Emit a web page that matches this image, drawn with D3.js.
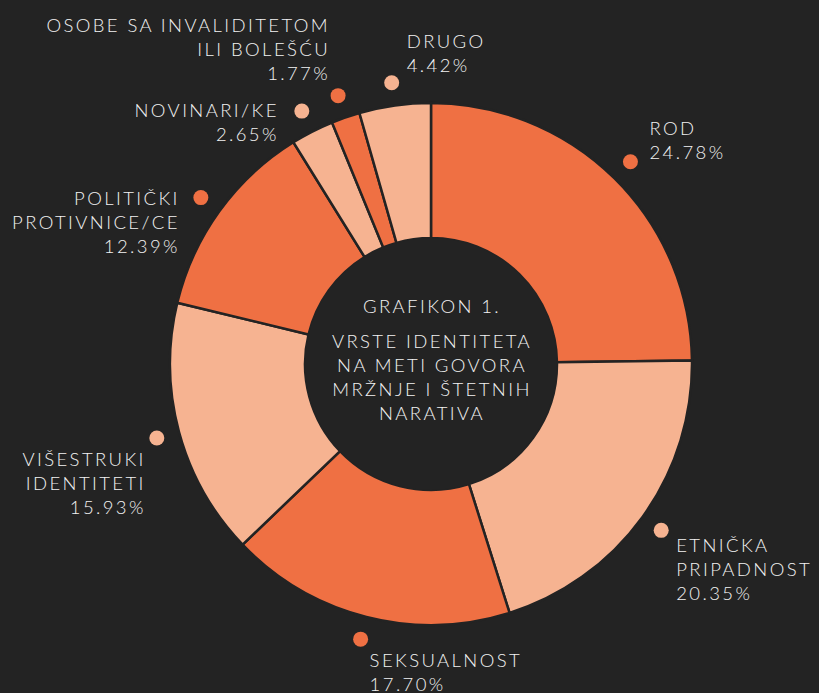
<!DOCTYPE html>
<html>
<head>
<meta charset="utf-8">
<script src="https://cdn.jsdelivr.net/npm/d3@7"></script>
<style>
  html, body { margin: 0; padding: 0; background: #232323; }
  svg { display: block; }
  text { font-family: Lato, "Open Sans", sans-serif; font-weight: 300; fill: #f2f2f2; font-size: 18.5px; letter-spacing: 2.4px; }
</style>
</head>
<body>
<div class="container"></div>
<script>
var width = 819,
    height = 693,
    cx = 431,
    cy = 364,
    outerR = 261,
    innerR = 126,
    dotR = 284;

// data, clockwise from 12 o'clock
var categories = ['ROD', 'ETNIČKA PRIPADNOST', 'SEKSUALNOST', 'VIŠESTRUKI IDENTITETI',
    'POLITIČKI PROTIVNICE/CE', 'NOVINARI/KE', 'OSOBE SA INVALIDITETOM ILI BOLEŠĆU', 'DRUGO'];
var shares = [24.78, 20.35, 17.70, 15.93, 12.39, 2.65, 1.77, 4.42];
var labelLines = [
    ['ROD'],
    ['ETNIČKA', 'PRIPADNOST'],
    ['SEKSUALNOST'],
    ['VIŠESTRUKI', 'IDENTITETI'],
    ['POLITIČKI', 'PROTIVNICE/CE'],
    ['NOVINARI/KE'],
    ['OSOBE SA INVALIDITETOM', 'ILI BOLEŠĆU'],
    ['DRUGO']
];
var titleLines = ['VRSTE IDENTITETA', 'NA METI GOVORA', 'MRŽNJE I ŠTETNIH', 'NARATIVA'];

// label placement relative to its dot (layout only)
var labelLayout = [
    {anchor: 'start', dx: 19, dy: -27},
    {anchor: 'start', dx: 15, dy: 22},
    {anchor: 'start', dx: 9, dy: 28},
    {anchor: 'end', dx: -11, dy: 28},
    {anchor: 'end', dx: -21, dy: 7},
    {anchor: 'end', dx: -23, dy: 6},
    {anchor: 'end', dx: -8, dy: -64},
    {anchor: 'start', dx: 15, dy: -35}
];
var lineH = 24;

var color = d3.scaleOrdinal()
    .domain(d3.range(categories.length))
    .range(['#ef7043', '#f6b391']);

var svg = d3.select('.container').append('svg')
    .attr('width', width)
    .attr('height', height);

var rows = categories.map((c, i) => ({name: c, value: shares[i], i: i}));

var pie = d3.pie()
    .sort(null)
    .value((d) => d.value);

var arc = d3.arc()
    .innerRadius(innerR)
    .outerRadius(outerR);

var arcs = pie(rows);

var g = svg.append('g')
    .attr('transform', 'translate(' + cx + ',' + cy + ')');

g.selectAll('path.slice')
    .data(arcs)
    .enter().append('path')
    .attr('class', 'slice')
    .attr('d', arc)
    .style('fill', (d) => color(d.data.i))
    .style('stroke', '#232323')
    .style('stroke-width', 2.5);

g.append('circle')
    .attr('r', innerR)
    .style('fill', '#232323');

var dotArc = d3.arc().innerRadius(dotR).outerRadius(dotR);

var lbl = g.selectAll('g.lbl')
    .data(arcs)
    .enter().append('g')
    .attr('class', 'lbl')
    .attr('transform', (d) => 'translate(' + dotArc.centroid(d) + ')');

lbl.append('circle')
    .attr('r', 7.5)
    .style('fill', (d) => color(d.data.i));

// letter-spacing adds trailing space after the last glyph, so end-anchored labels get nudged
lbl.append('text')
    .attr('text-anchor', (d) => labelLayout[d.data.i].anchor)
    .attr('x', (d) => labelLayout[d.data.i].dx)
    .attr('y', (d) => labelLayout[d.data.i].dy)
    .selectAll('tspan')
    .data((d) => labelLines[d.data.i].concat([d.data.value.toFixed(2) + '%'])
        .map((t) => ({t: t, l: labelLayout[d.data.i]})))
    .enter().append('tspan')
    .attr('x', (d) => d.l.dx)
    .attr('dy', (d, j) => j === 0 ? 0 : lineH)
    .text((d) => d.t);

// center title
var title = g.append('text')
    .attr('text-anchor', 'middle')
    .attr('y', -51);

title.append('tspan')
    .attr('x', 1)
    .text('GRAFIKON 1.');

title.selectAll('tspan.t')
    .data(titleLines)
    .enter().append('tspan')
    .attr('class', 't')
    .attr('x', 1)
    .attr('dy', (d, j) => j === 0 ? 35 : lineH)
    .text((d) => d);
</script>
</body>
</html>
